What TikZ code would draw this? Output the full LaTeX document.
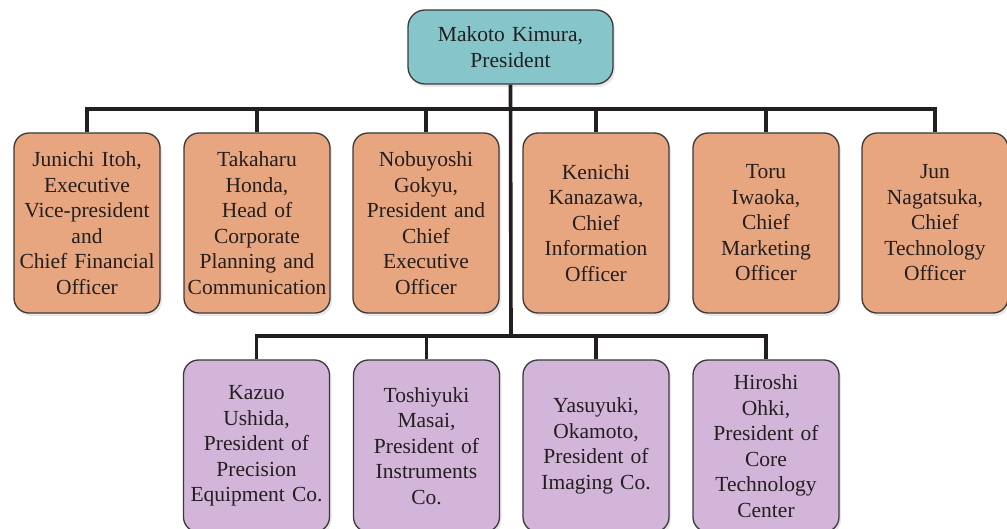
\documentclass[tikz,border=0pt]{standalone}
\usepackage{fontspec}
\setmainfont{Liberation Serif}
\usetikzlibrary{shadows}
\definecolor{topfill}{HTML}{86C5CA}
\definecolor{midfill}{HTML}{E7A67F}
\definecolor{botfill}{HTML}{D3B5D9}
\definecolor{ink}{HTML}{231F20}
\definecolor{edge}{HTML}{3A3A3A}
\tikzset{
  box/.style={draw=edge, line width=1.3pt, rounded corners=15pt, align=center,
    inner sep=0pt, text width=146pt, minimum width=146pt, minimum height=180pt,
    text=ink, font=\fontsize{21.5}{25.5}\selectfont,
    drop shadow={opacity=0.18, shadow xshift=2pt, shadow yshift=-3pt}},
  midbox/.style={box, fill=midfill},
  botbox/.style={box, fill=botfill, minimum height=172pt},
  topbox/.style={box, fill=topfill, text width=205pt, minimum width=205pt, minimum height=74pt, rounded corners=17pt},
  conn/.style={draw=ink, line width=3.6pt}
}
\begin{document}
\begin{tikzpicture}[x=1pt,y=-1pt]
\useasboundingbox (0,0) rectangle (1007,529);
\clip (0,0) rectangle (1007,529);
\node[topbox] (top) at (510.5,47) {Makoto Kimura,\\President};
\node[midbox] (m1) at (87,223) {Junichi Itoh,\\Executive\\Vice-president\\and\\Chief Financial\\Officer};
\node[midbox] (m2) at (257,223) {Takaharu\\Honda,\\Head of\\Corporate\\Planning and\\Communication};
\node[midbox] (m3) at (426,223) {Nobuyoshi\\Gokyu,\\President and\\Chief\\Executive\\Officer};
\node[midbox] (m4) at (596,223) {Kenichi\\Kanazawa,\\Chief\\Information\\Officer};
\node[midbox] (m5) at (766,223) {Toru\\Iwaoka,\\Chief\\Marketing\\Officer};
\node[midbox] (m6) at (935,223) {Jun\\Nagatsuka,\\Chief\\Technology\\Officer};
\node[botbox] (b1) at (256.5,446) {Kazuo\\Ushida,\\President of\\Precision\\Equipment Co.};
\node[botbox] (b2) at (426.5,446) {Toshiyuki\\Masai,\\President of\\Instruments\\Co.};
\node[botbox] (b3) at (596,446) {Yasuyuki,\\Okamoto,\\President of\\Imaging Co.};
\node[botbox] (b4) at (766,446) {Hiroshi\\Ohki,\\President of\\Core\\Technology\\Center};
\coordinate (hub1) at (511,109);
\coordinate (hub2) at (511,336);
\draw[conn] (top.south) -- (hub2);
\draw[conn] (m1.north) |- (hub1) -| (m6.north);
\foreach \n in {m2,m3,m4,m5} \draw[conn] (\n.north) -- (\n.north |- hub1);
\draw[conn] (b1.north) |- (hub2) -| (b4.north);
\foreach \n in {b2,b3} \draw[conn] (\n.north) -- (\n.north |- hub2);
\end{tikzpicture}
\end{document}
